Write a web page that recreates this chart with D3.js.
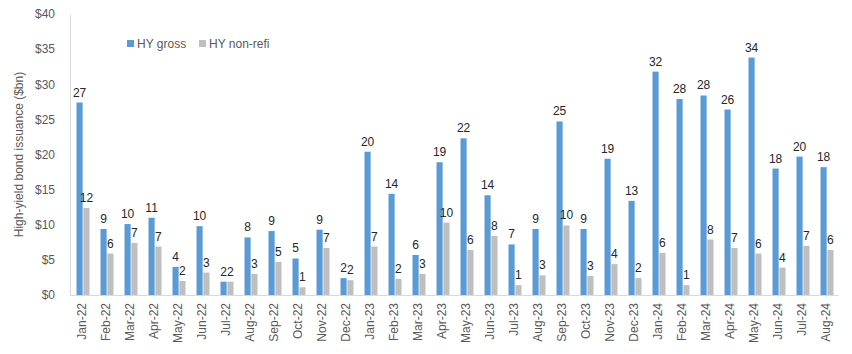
<!DOCTYPE html>
<html>
<head>
<meta charset="utf-8">
<script src="https://cdn.jsdelivr.net/npm/d3@7"></script>
<style>
  body { margin: 0; background: #fff; }
  text { font-family: "Liberation Sans", Arial, sans-serif; }
</style>
</head>
<body>
<div id="chart"></div>
<script>
var months = ["Jan-22","Feb-22","Mar-22","Apr-22","May-22","Jun-22","Jul-22","Aug-22","Sep-22","Oct-22","Nov-22","Dec-22",
              "Jan-23","Feb-23","Mar-23","Apr-23","May-23","Jun-23","Jul-23","Aug-23","Sep-23","Oct-23","Nov-23","Dec-23",
              "Jan-24","Feb-24","Mar-24","Apr-24","May-24","Jun-24","Jul-24","Aug-24"];
var gross = [27.4, 9.4, 10.1, 11.0, 4.0, 9.8, 1.9, 8.2, 9.1, 5.2, 9.3, 2.4,
             20.4, 14.4, 5.7, 18.9, 22.3, 14.2, 7.2, 9.4, 24.7, 9.4, 19.4, 13.4,
             31.8, 27.9, 28.4, 26.4, 33.8, 18.0, 19.7, 18.2];
var nonRefi = [12.4, 5.9, 7.4, 6.9, 2.0, 3.2, 1.9, 3.0, 4.7, 1.1, 6.7, 2.1,
               6.9, 2.3, 3.0, 10.3, 6.4, 8.4, 1.4, 2.8, 9.9, 2.7, 4.4, 2.4,
               6.0, 1.4, 7.9, 6.7, 5.9, 3.9, 7.0, 6.4];
var yTicks = [0, 5, 10, 15, 20, 25, 30, 35, 40];
var seriesNames = ["HY gross", "HY non-refi"];
var colors = ["#5B9BD5", "#BFBFBF"];

var margin = {left: 70, right: 14, top: 14, bottom: 59};
var width = 852 - margin.left - margin.right,
    height = 354 - margin.top - margin.bottom;

var svg = d3.select("#chart").append("svg")
    .attr("width", 852)
    .attr("height", 354);
var g = svg.append("g")
    .attr("transform", "translate(" + margin.left + "," + margin.top + ")");

var x = d3.scaleBand().domain(months).range([0, width]).padding(0);
var x1 = d3.scaleBand().domain(seriesNames).range([6.5, 19.5]).paddingInner(0.1);
var y = d3.scaleLinear().domain([0, 40]).range([height, 0]);

// y axis
var yAxis = g.append("g")
    .call(d3.axisLeft(y).tickValues(yTicks).tickSize(0).tickPadding(15)
        .tickFormat(function(d) { return "$" + d; }));
yAxis.select(".domain").attr("stroke", "#D9D9D9");
yAxis.selectAll("text").attr("fill", "#595959").style("font-size", "12px");

// x axis
var xAxis = g.append("g")
    .attr("transform", "translate(0," + height + ")")
    .call(d3.axisBottom(x).tickSize(0).tickPadding(0));
xAxis.select(".domain").attr("stroke", "#D9D9D9");
xAxis.selectAll("text")
    .attr("fill", "#595959")
    .style("font-size", "12px")
    .attr("text-anchor", "end")
    .attr("dy", "0.35em")
    .attr("transform", "translate(0,8) rotate(-90)");

var data = months.map(function(m, i) {
  return [{m: m, s: seriesNames[0], v: gross[i], c: colors[0]},
          {m: m, s: seriesNames[1], v: nonRefi[i], c: colors[1]}];
});

var groups = g.selectAll(".grp").data(data).enter().append("g")
    .attr("transform", function(d) { return "translate(" + x(d[0].m) + ",0)"; });

groups.selectAll("rect").data(function(d) { return d; }).enter().append("rect")
    .attr("x", function(d) { return x1(d.s); })
    .attr("y", function(d) { return y(d.v); })
    .attr("width", x1.bandwidth())
    .attr("height", function(d) { return height - y(d.v); })
    .attr("fill", function(d) { return d.c; });

groups.selectAll(".lbl").data(function(d) { return d; }).enter().append("text")
    .attr("x", function(d) { return x1(d.s) + x1.bandwidth() / 2; })
    .attr("y", function(d) { return y(d.v) - 6; })
    .attr("text-anchor", "middle")
    .attr("fill", "#262626")
    .style("font-size", "12px")
    .text(function(d) { return Math.round(d.v); });

// y title
svg.append("text")
    .attr("transform", "translate(23," + (margin.top + height / 2) + ") rotate(-90)")
    .attr("text-anchor", "middle")
    .attr("fill", "#595959")
    .style("font-size", "12px")
    .text("High-yield bond issuance ($bn)");

// legend
var legX = [127, 199];
var leg = svg.selectAll(".leg").data(seriesNames).enter().append("g")
    .attr("transform", function(d, i) { return "translate(" + legX[i] + ",40)"; });
leg.append("rect").attr("width", 7).attr("height", 7)
    .attr("fill", function(d, i) { return colors[i]; });
leg.append("text").attr("x", 10).attr("y", 7.5)
    .attr("fill", "#595959")
    .style("font-size", "12px")
    .text(function(d) { return d; });
</script>
</body>
</html>
